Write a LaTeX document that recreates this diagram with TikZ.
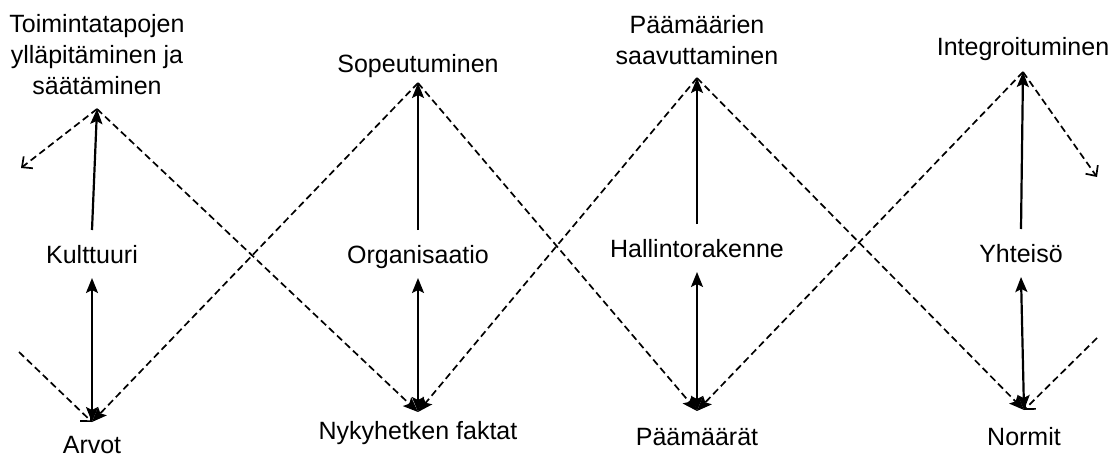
\documentclass[tikz,border=0pt]{standalone}
\usepackage{fontspec}
\setmainfont{Liberation Sans}
\usetikzlibrary{arrows.meta}
\begin{document}
\begin{tikzpicture}[x=1pt,y=-1pt,
  txt/.style={font=\fontsize{25pt}{31pt}\selectfont, inner xsep=0pt, outer sep=0pt, align=center},
  topnode/.style={txt, anchor=south, text depth=0pt, inner ysep=#1},
  midnode/.style={txt, anchor=base, text height=18pt, text depth=0pt, inner ysep=15pt},
  botnode/.style={txt, anchor=north, text height=18pt, inner ysep=#1},
  head/.style={Stealth[length=15pt,width=12pt,inset=3pt]},
  solid arrow/.style={line width=2.2pt, -{Stealth[length=15pt,width=12pt,inset=3pt]}},
  both arrow/.style={line width=2.2pt, {Stealth[length=15pt,width=12pt,inset=3pt]}-{Stealth[length=15pt,width=12pt,inset=3pt]}},
  dash arrow/.style={line width=1.7pt, dash pattern=on 7pt off 4pt, -{Stealth[length=15pt,width=12pt,inset=3pt]}},
  dash open/.style={line width=1.7pt, dash pattern=on 7pt off 4pt, -{Straight Barb[length=8pt,width=15pt]}}]
\useasboundingbox (0,0) rectangle (1115,457);

% upper row: the four functions
\node[topnode=14pt] (t1) at (97,109) {Toimintatapojen\\ylläpitäminen ja\\säätäminen};
\node[topnode=10pt] (t2) at (418,83) {Sopeutuminen};
\node[topnode=13pt] (t3) at (697,78) {Päämäärien\\saavuttaminen};
\node[topnode=16pt] (t4) at (1023,72) {Integroituminen};

% middle row: the subsystems
\node[midnode] (m1) at (92,263) {Kulttuuri};
\node[midnode] (m2) at (418,263) {Organisaatio};
\node[midnode] (m3) at (697,257) {Hallintorakenne};
\node[midnode] (m4) at (1021,262) {Yhteisö};

% lower row
\node[botnode=13pt] (b1) at (92,422) {Arvot};
\node[botnode=9pt]  (b2) at (418,412) {Nykyhetken faktat};
\node[botnode=16pt] (b3) at (697,411) {Päämäärät};
\node[botnode=17pt] (b4) at (1024,410) {Normit};

% loose ends of the zigzag
\coordinate (e1) at (21,168);
\coordinate (e2) at (19,352);
\coordinate (e3) at (1097,177);
\coordinate (e4) at (1097,338);

% vertical connections
\foreach \i in {1,...,4} {
  \draw[solid arrow] (m\i.north) -- (t\i.south);
  \draw[both arrow] (m\i.south) -- (b\i.north);
}

% dashed zigzags
\draw[dash open]  (t1.south) -- (e1);
\draw[dash arrow] (t1.south) -- (b2.north);
\draw[dash open]  (e2) -- (b1.north);
\draw[dash arrow] (t2.south) -- (b1.north);
\draw[dash arrow] (t2.south) -- (b3.north);
\draw[dash arrow] (t3.south) -- (b2.north);
\draw[dash arrow] (t3.south) -- (b4.north);
\draw[dash arrow] (t4.south) -- (b3.north);
\draw[dash open]  (t4.south) -- (e3);
\draw[dash open]  (e4) -- (b4.north);
\end{tikzpicture}
\end{document}
